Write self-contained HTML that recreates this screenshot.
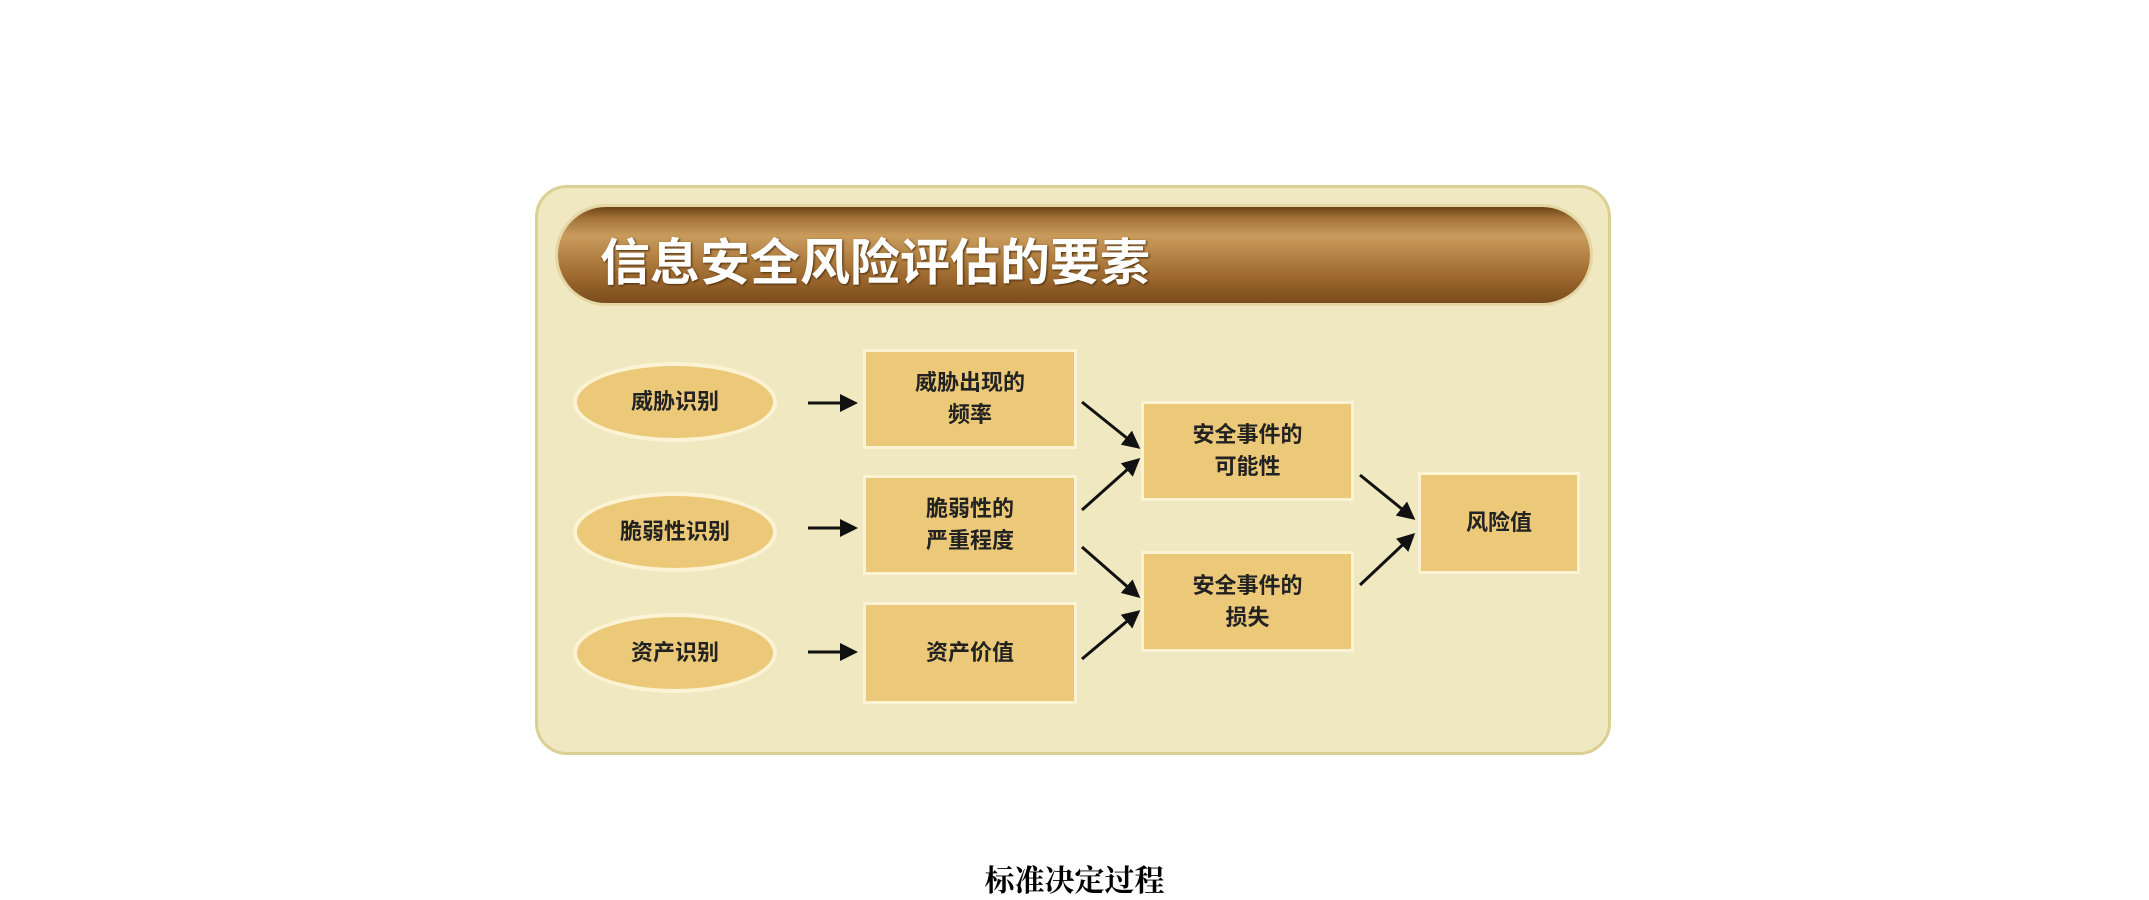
<!DOCTYPE html>
<html><head><meta charset="utf-8"><style>
body{margin:0;width:2149px;height:900px;background:#fff;position:relative;overflow:hidden;font-family:"Liberation Sans","Noto Sans CJK SC",sans-serif}
.panel{position:absolute;left:535px;top:185px;width:1076px;height:570px;background:#efe8c0;border:3px solid #dccf94;border-radius:32px;box-sizing:border-box}
.title{position:absolute;left:558px;top:207px;width:1032px;height:96px;border-radius:48px;background:linear-gradient(#6e4316 0%,#a3733a 12%,#c99c5c 30%,#a06c30 70%,#7a4c1c 100%);box-shadow:0 0 0 3px #e5d6a6}
.title span{position:absolute;left:42px;top:16px;color:#fff;font-weight:bold;font-size:50px;letter-spacing:0px;text-shadow:1px 1px 2px #4a2a08}
.n{position:absolute;background:#ecc978;border:3px solid #fbf3d4;box-sizing:border-box;display:flex;align-items:center;justify-content:center;text-align:center;font-weight:bold;font-size:22px;line-height:32px;color:#222}
.e{border-radius:50%;border-width:4px}
.cap{position:absolute;left:0;width:2149px;top:856px;text-align:center;font-family:"Liberation Serif","Noto Serif CJK SC",serif;font-weight:bold;font-size:30px;color:#000}
</style></head><body>
<div class="panel"></div>
<div class="title"><span>信息安全风险评估的要素</span></div>
<div class="n e" style="left:573px;top:362px;width:204px;height:80px">威胁识别</div>
<div class="n e" style="left:573px;top:492px;width:204px;height:80px">脆弱性识别</div>
<div class="n e" style="left:573px;top:613px;width:204px;height:80px">资产识别</div>
<div class="n" style="left:863px;top:349px;width:214px;height:100px">威胁出现的<br>频率</div>
<div class="n" style="left:863px;top:475px;width:214px;height:100px">脆弱性的<br>严重程度</div>
<div class="n" style="left:863px;top:602px;width:214px;height:102px">资产价值</div>
<div class="n" style="left:1141px;top:401px;width:213px;height:100px">安全事件的<br>可能性</div>
<div class="n" style="left:1141px;top:551px;width:213px;height:101px">安全事件的<br>损失</div>
<div class="n" style="left:1418px;top:472px;width:162px;height:102px">风险值</div>
<svg style="position:absolute;left:0;top:0" width="2149" height="900">
<defs><marker id="a" markerWidth="6" markerHeight="6" refX="5" refY="3" orient="auto" markerUnits="strokeWidth"><path d="M0,0L6,3L0,6z" fill="#111"/></marker></defs>
<g stroke="#111" stroke-width="3" marker-end="url(#a)">
<line x1="808" y1="403" x2="855" y2="403"/>
<line x1="808" y1="528" x2="855" y2="528"/>
<line x1="808" y1="652" x2="855" y2="652"/>
<line x1="1082" y1="402" x2="1138" y2="447"/>
<line x1="1082" y1="510" x2="1138" y2="460"/>
<line x1="1082" y1="547" x2="1138" y2="596"/>
<line x1="1082" y1="659" x2="1138" y2="612"/>
<line x1="1360" y1="475" x2="1413" y2="518"/>
<line x1="1360" y1="585" x2="1413" y2="535"/>
</g></svg>
<div class="cap">标准决定过程</div>
</body></html>
